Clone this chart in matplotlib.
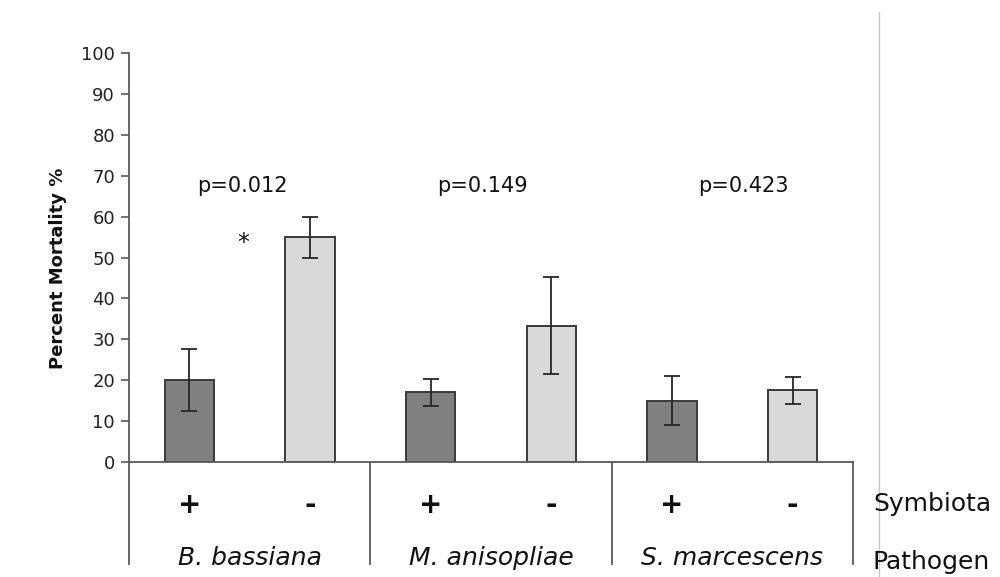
import numpy as np
import matplotlib
matplotlib.use('Agg')
import matplotlib.pyplot as plt
from matplotlib.lines import Line2D

# data
pathogens = ['B. bassiana', 'M. anisopliae', 'S. marcescens']
symbiota = ['+', '-']
mortality = [20.0, 55.0, 17.0, 33.3, 15.0, 17.6]
err = [7.6, 5.0, 3.3, 11.9, 6.0, 3.3]
p_values = ['p=0.012', 'p=0.149', 'p=0.423']

bar_colors = ['#808080', '#d9d9d9'] * 3
p_x = [0.44, 2.43, 4.59]
p_y = 67.5

plt.rcParams['font.family'] = ['DejaVu Sans']
fig = plt.figure(figsize=(10, 5.77), dpi=100)
ax = fig.add_axes([0.129, 0.1993, 0.724, 0.7088])

x = np.arange(len(mortality))
ax.bar(x, mortality, width=0.41, color=bar_colors, edgecolor='#3a3a3a', linewidth=1.4, zorder=2)
ax.errorbar(x, mortality, yerr=err, fmt='none', ecolor='#262626', elinewidth=1.3,
            capsize=5.5, capthick=1.3, zorder=3)

ax.set_xlim(-0.5, 5.5)
ax.set_ylim(0, 100)
ax.set_yticks(np.arange(0, 101, 10))
ax.set_xticks([])
ax.tick_params(axis='y', direction='out', length=6, width=1.2, color='#595959',
               labelsize=13, labelcolor='#222222', pad=4)
for s in ['top', 'right']:
    ax.spines[s].set_visible(False)
for s in ['left', 'bottom']:
    ax.spines[s].set_color('#595959')
    ax.spines[s].set_linewidth(1.3)

ax.set_ylabel('Percent Mortality %', fontsize=13, fontweight='semibold', color='#111111')
ax.yaxis.set_label_coords(-0.0856, 0.474)

# p-values and significance mark
for xp, txt in zip(p_x, p_values):
    ax.text(xp, p_y, txt, ha='center', va='center', fontsize=15, color='#111111')
ax.text(0.45, 53.5, '*', ha='center', va='center', fontsize=17, color='#111111')

# category axis below the plot
for xd in [-0.5, 1.5, 3.5, 5.5]:
    ax.plot([xd, xd], [0, -25], color='#595959', lw=1.3, clip_on=False)
for i, xi in enumerate(x):
    ax.text(xi, -10.5, symbiota[i % 2], ha='center', va='center', fontsize=20,
            fontweight='bold', color='#111111', clip_on=False)
for g, name in enumerate(pathogens):
    ax.text(2 * g + 0.5, -23.5, name, ha='center', va='center', fontsize=18,
            style='italic', color='#111111', clip_on=False)

# thin frame line on the right (behind the row titles)
fig.add_artist(Line2D([0.879, 0.879], [0.0, 1 - 12 / 577], color='#c8c8c8', lw=1.0, zorder=0))

ax.text(1.0276, -10.3, 'Symbiota', transform=ax.get_yaxis_transform(), ha='left', va='center',
        fontsize=18, color='#111111')
ax.text(1.0276, -24.5, 'Pathogen', transform=ax.get_yaxis_transform(), ha='left', va='center',
        fontsize=18, color='#111111')

fig.savefig('out.png', dpi=100)
